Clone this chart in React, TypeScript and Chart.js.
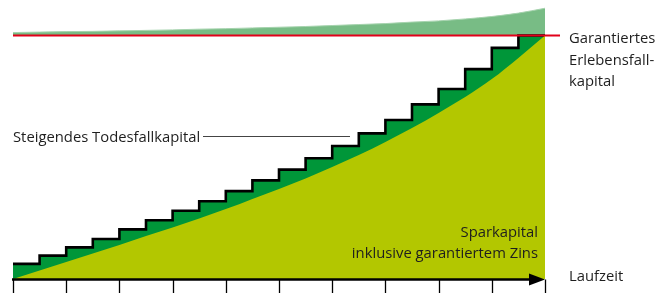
import React, { useEffect, useRef } from "react";
import { Chart, registerables } from "chart.js";

Chart.register(...registerables);

// Laufzeit: step boundaries (years)
const periods = [0, 1, 2, 3, 4, 5, 6, 7, 8, 9, 10, 11, 12, 13, 14, 15, 16, 17, 18, 19, 20];
// Sparkapital inklusive garantiertem Zins (share of guaranteed capital, %)
const sparkapital = [0, 3.5, 7.0, 10.5, 14.0, 17.7, 21.1, 24.8, 28.7, 32.9, 37.0, 41.3, 46.0, 50.9, 56.3, 62.0, 68.2, 74.7, 82.1, 90.8, 100];
// Steigendes Todesfallkapital, one value per year
const todesfallkapital = [6.2, 9.6, 13.0, 16.4, 20.4, 24.1, 28.0, 31.9, 36.1, 40.5, 44.9, 49.6, 54.6, 59.8, 65.3, 71.7, 78.0, 86.2, 94.9, 100];
// Upper band above the guaranteed capital
const ueberschuss = [101.2, 101.4, 101.6, 101.7, 101.9, 102.1, 102.3, 102.6, 102.8, 103.1, 103.4, 103.7, 104.1, 104.5, 104.9, 105.5, 106.0, 106.8, 107.8, 109.2, 111.2];
// Garantiertes Erlebensfallkapital
const erlebensfallkapital = 100;
// Axis tick positions
const tickValues = [0, 2, 4, 6, 8, 10, 12, 14, 16, 18, 20];

const FONT = '14.8px "Open Sans", sans-serif';

export default function App() {
  const ref = useRef<HTMLCanvasElement>(null);

  useEffect(() => {
    if (!ref.current) return;

    const stepData = todesfallkapital.map((v, i) => ({ x: periods[i], y: v }));
    stepData.push({ x: periods[periods.length - 1], y: todesfallkapital[todesfallkapital.length - 1] });

    const decor = {
      id: "decor",
      afterDatasetsDraw(chart: any) {
        const ctx = chart.ctx;
        const xs = chart.scales.x;
        const ys = chart.scales.y;
        const x0 = xs.getPixelForValue(periods[0]);
        const x1 = xs.getPixelForValue(periods[periods.length - 1]);
        const yAxis = ys.getPixelForValue(0) + 0.5;
        ctx.save();
        // red guaranteed line
        const yr = ys.getPixelForValue(erlebensfallkapital);
        ctx.strokeStyle = "#e2001a";
        ctx.lineWidth = 2.2;
        ctx.beginPath();
        ctx.moveTo(x0, yr);
        ctx.lineTo(x1 + 15, yr);
        ctx.stroke();
        // ticks
        ctx.strokeStyle = "#000";
        ctx.lineWidth = 1.3;
        tickValues.forEach((t) => {
          const px = Math.round(xs.getPixelForValue(t)) + 0.5;
          ctx.beginPath();
          ctx.moveTo(px, yAxis);
          ctx.lineTo(px, 293);
          ctx.stroke();
        });
        // axis line
        ctx.lineWidth = 2.5;
        ctx.beginPath();
        ctx.moveTo(x0 - 1, yAxis);
        ctx.lineTo(x1 - 12, yAxis);
        ctx.stroke();
        // arrow
        ctx.fillStyle = "#000";
        ctx.beginPath();
        ctx.moveTo(x1, yAxis);
        ctx.lineTo(x1 - 16, yAxis - 6);
        ctx.lineTo(x1 - 16, yAxis + 6);
        ctx.closePath();
        ctx.fill();
        // leader line
        ctx.strokeStyle = "#444";
        ctx.lineWidth = 1.2;
        ctx.beginPath();
        ctx.moveTo(203, 136.5);
        ctx.lineTo(350, 136.5);
        ctx.stroke();
        // texts
        ctx.font = FONT;
        ctx.fillStyle = "#1e1e1e";
        ctx.textBaseline = "alphabetic";
        ctx.textAlign = "left";
        ctx.fillText("Steigendes Todesfallkapital", 13, 141.5);
        ctx.fillText("Garantiertes", 569, 43.3);
        ctx.fillText("Erlebensfall-", 569, 64.8);
        ctx.fillText("kapital", 569, 85.8);
        ctx.fillText("Laufzeit", 569, 280.7);
        ctx.textAlign = "right";
        ctx.fillText("Sparkapital", 538, 237.3);
        ctx.fillText("inklusive garantiertem Zins", 538, 258.3);
        ctx.restore();
      },
    };

    const chart = new Chart(ref.current, {
      type: "line",
      data: {
        datasets: [
          {
            label: "Sparkapital",
            data: sparkapital.map((v, i) => ({ x: periods[i], y: v })),
            borderWidth: 0,
            borderColor: "rgba(0,0,0,0)",
            backgroundColor: "#b3c700",
            fill: "origin",
            pointRadius: 0,
            cubicInterpolationMode: "monotone",
          },
          {
            label: "Todesfallkapital",
            data: stepData,
            stepped: true,
            borderWidth: 2.6,
            borderColor: "#000",
            backgroundColor: "#009639",
            fill: "origin",
            pointRadius: 0,
          },
          {
            label: "Überschuss",
            data: ueberschuss.map((v, i) => ({ x: periods[i], y: v })),
            borderWidth: 1,
            borderColor: "#a6d3ae",
            backgroundColor: "#78bc85",
            fill: { value: erlebensfallkapital },
            pointRadius: 0,
            cubicInterpolationMode: "monotone",
          },
        ],
      },
      options: {
        animation: false,
        responsive: false,
        events: [],
        layout: { padding: { left: 13, right: 123, top: 279 - 112 * 2.435, bottom: 14 } },
        plugins: { legend: { display: false }, tooltip: { enabled: false } },
        scales: {
          x: { type: "linear", min: 0, max: 20, display: false },
          y: { type: "linear", min: 0, max: 112, display: false },
        },
      },
      plugins: [decor],
    });
    return () => chart.destroy();
  }, []);

  return (
    <div style={{ position: "fixed", left: 0, top: 0, width: 668, height: 293, background: "#fff" }}>
      <canvas ref={ref} width={668} height={293} style={{ display: "block" }} />
    </div>
  );
}
